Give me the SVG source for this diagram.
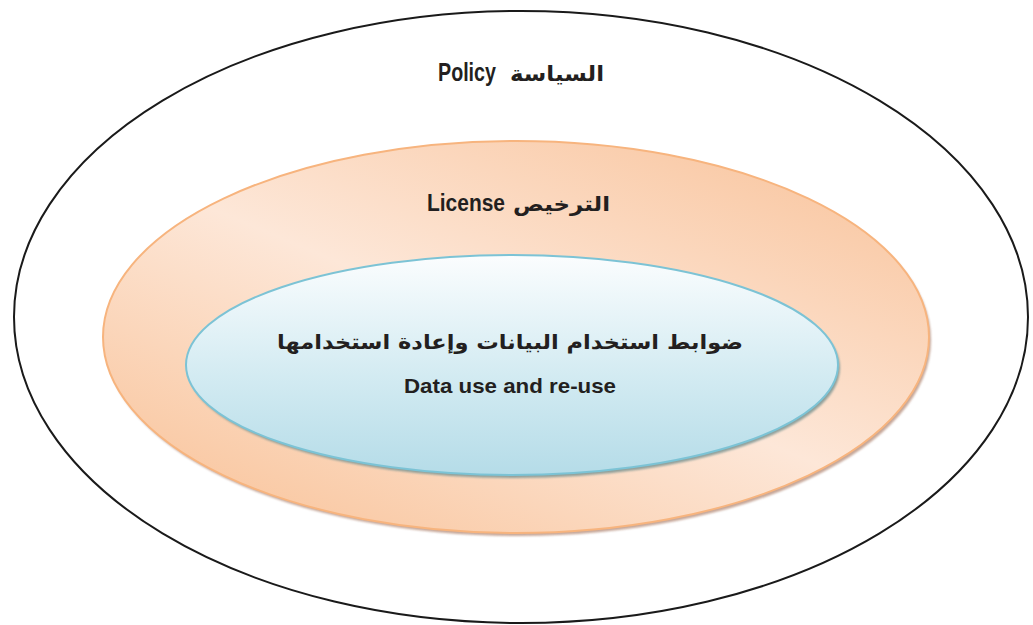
<svg xmlns="http://www.w3.org/2000/svg" width="1033" height="625" viewBox="0 0 1033 625">
<defs>
<linearGradient id="gOrange" x1="0.1" y1="0.95" x2="0.9" y2="0.05">
<stop offset="0" stop-color="#f9c59d"/>
<stop offset="0.5" stop-color="#fde7d8"/>
<stop offset="1" stop-color="#f9c6a0"/>
</linearGradient>
<linearGradient id="gBlue" x1="0" y1="0" x2="0" y2="1">
<stop offset="0" stop-color="#fbfdfe"/>
<stop offset="0.55" stop-color="#d3ebf2"/>
<stop offset="1" stop-color="#b5dce8"/>
</linearGradient>
<filter id="blur" x="-5%" y="-5%" width="110%" height="110%"><feGaussianBlur stdDeviation="1"/></filter>
</defs>
<style>
.lbl{font-family:"Liberation Sans","DejaVu Sans",sans-serif;font-weight:bold;fill:#231f20}
.ar{font-family:"DejaVu Sans","Noto Sans",sans-serif;font-weight:bold;fill:#231f20}
</style>
<rect width="1033" height="625" fill="#ffffff"/>
<g id="policy">
<ellipse cx="521" cy="317" rx="507" ry="306" fill="#ffffff" stroke="#1a1a1a" stroke-width="2"/>
<text class="lbl" x="438" y="81" font-size="25" textLength="58" lengthAdjust="spacingAndGlyphs">Policy</text>
<text class="ar" x="604" y="81" font-size="21" text-anchor="end" textLength="94" lengthAdjust="spacingAndGlyphs">السياسة</text>
</g>
<g id="license">
<ellipse cx="518" cy="340" rx="413" ry="196" fill="#b8917f" opacity="0.8" filter="url(#blur)"/>
<ellipse cx="516" cy="337" rx="413" ry="196" fill="url(#gOrange)" stroke="#f7b47e" stroke-width="2"/>
<text class="lbl" x="427" y="211" font-size="23" textLength="78" lengthAdjust="spacingAndGlyphs">License</text>
<text class="ar" x="610" y="211" font-size="20" text-anchor="end" textLength="97" lengthAdjust="spacingAndGlyphs">الترخيص</text>
</g>
<g id="data-use">
<ellipse cx="514" cy="368" rx="326" ry="110" fill="#7d9593" opacity="0.85" filter="url(#blur)"/>
<ellipse cx="512" cy="365" rx="326" ry="110" fill="url(#gBlue)" stroke="#7cc3d5" stroke-width="2"/>
<text class="ar" x="510" y="349" font-size="20" text-anchor="middle" textLength="466" lengthAdjust="spacingAndGlyphs">ضوابط استخدام البيانات وإعادة استخدامها</text>
<text class="lbl" x="510" y="393" font-size="21" text-anchor="middle" textLength="212" lengthAdjust="spacingAndGlyphs">Data use and re-use</text>
</g>
<g id="connectors"/>
</svg>
